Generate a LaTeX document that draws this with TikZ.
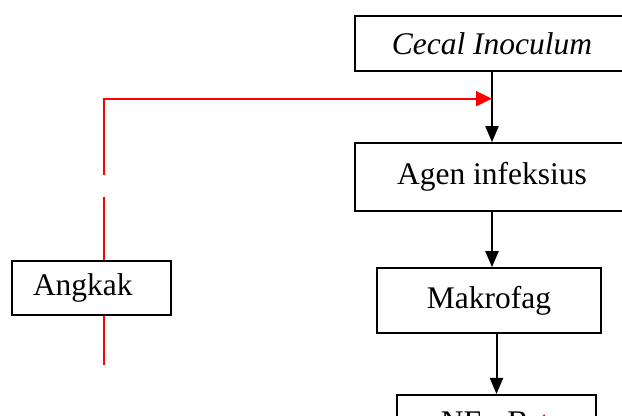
\documentclass[tikz,border=0pt]{standalone}
\usepackage{fontspec}
\setmainfont{Liberation Serif}
\usetikzlibrary{arrows.meta}
\begin{document}
\begin{tikzpicture}[x=0.5pt, y=0.5pt, font=\fontsize{15.75}{18}\selectfont, line join=miter,
		box/.style={draw, line width=0.8pt, fill=white, inner sep=0pt},
		flow/.style={line width=1pt, -{Triangle[length=8pt, width=6.5pt]}},
		redline/.style={red, line width=1pt}]
			\useasboundingbox (0,0) rectangle (622,-416);
			\clip (0,0) rectangle (622,-416);
			\node[box, minimum width=137pt, minimum height=27.5pt] (cecal) at (492,-43.5) {\itshape Cecal Inoculum};
			\node[box, minimum width=137pt, minimum height=34pt] (agen) at (492,-177) {Agen infeksius};
			\node[box, minimum width=112pt, minimum height=32.5pt] (makrofag) at (489,-300.5) {Makrofag};
			\node[box, anchor=north, minimum width=99.5pt, inner ysep=8.5pt] (nfkb) at (496.5,-394) {NF-κB {\color{red}↑}};
			\node[box, text width=58.5pt, inner xsep=10.5pt, minimum height=27pt, align=left] (angkak) at (91.5,-288) {Angkak};
			\draw[flow] (cecal) -- (agen);
			\draw[flow] (agen) -- (agen.south |- makrofag.north);
			\draw[flow] (makrofag.south -| nfkb.north) -- (nfkb.north);
			% red pathway from Angkak
			\coordinate (bend) at (104,-98.7);
			\coordinate (gaptop) at (104,-175);
			\coordinate (gapbot) at (104,-197);
			\coordinate (redend) at (104,-365);
			\coordinate (tip) at (cecal.south |- bend);
			\draw[redline, -{Triangle[length=8pt, width=7.5pt]}] (gaptop) -- (bend) -- (tip);
			\draw[redline] (gapbot) -- (angkak.north -| gapbot);
			\draw[redline] (angkak.south -| gapbot) -- (redend);
		\end{tikzpicture}
\end{document}
